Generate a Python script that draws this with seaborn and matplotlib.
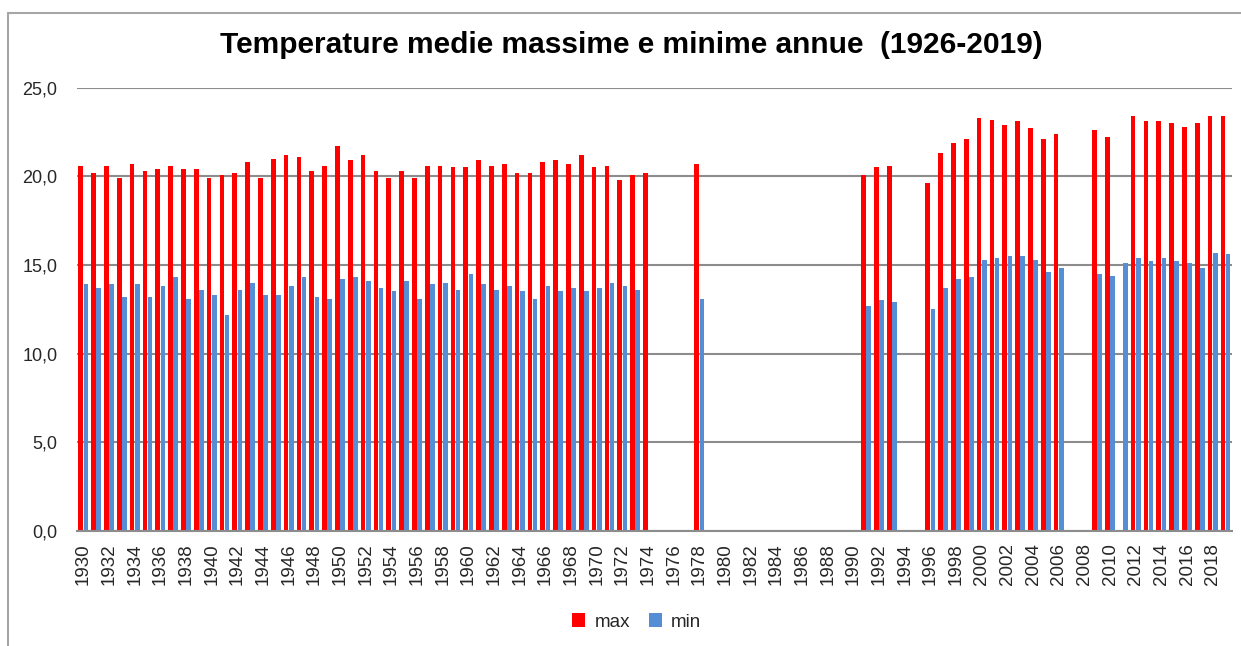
import pandas as pd
import seaborn as sns
import matplotlib.pyplot as plt
from matplotlib.ticker import FuncFormatter
from matplotlib.patches import Patch
from matplotlib.lines import Line2D

# anni 1930-2019, None = dato mancante
years = list(range(1930, 2020))

tmax = [
    20.6, 20.2, 20.6, 19.9, 20.7, 20.3, 20.4, 20.6, 20.4, 20.4,   # 1930
    19.9, 20.1, 20.2, 20.8, 19.9, 21.0, 21.2, 21.1, 20.3, 20.6,   # 1940
    21.7, 20.9, 21.2, 20.3, 19.9, 20.3, 19.9, 20.6, 20.6, 20.5,   # 1950
    20.5, 20.9, 20.6, 20.7, 20.2, 20.2, 20.8, 20.9, 20.7, 21.2,   # 1960
    20.5, 20.6, 19.8, 20.1, 20.2, None, None, None, 20.7, None,   # 1970
    None, None, None, None, None, None, None, None, None, None,   # 1980
    None, 20.1, 20.5, 20.6, None, None, 19.6, 21.3, 21.9, 22.1,   # 1990
    23.3, 23.2, 22.9, 23.1, 22.7, 22.1, 22.4, None, None, 22.6,   # 2000
    22.2, None, 23.4, 23.1, 23.1, 23.0, 22.8, 23.0, 23.4, 23.4,   # 2010
]

tmin = [
    13.9, 13.7, 13.9, 13.2, 13.9, 13.2, 13.8, 14.3, 13.1, 13.6,   # 1930
    13.3, 12.2, 13.6, 14.0, 13.3, 13.3, 13.8, 14.3, 13.2, 13.1,   # 1940
    14.2, 14.3, 14.1, 13.7, 13.5, 14.1, 13.1, 13.9, 14.0, 13.6,   # 1950
    14.5, 13.9, 13.6, 13.8, 13.5, 13.1, 13.8, 13.5, 13.7, 13.5,   # 1960
    13.7, 14.0, 13.8, 13.6, None, None, None, None, 13.1, None,   # 1970
    None, None, None, None, None, None, None, None, None, None,   # 1980
    None, 12.7, 13.0, 12.9, None, None, 12.5, 13.7, 14.2, 14.3,   # 1990
    15.3, 15.4, 15.5, 15.5, 15.3, 14.6, 14.8, None, None, 14.5,   # 2000
    14.4, 15.1, 15.4, 15.2, 15.4, 15.2, 15.1, 14.8, 15.7, 15.6,   # 2010
]

series = ['max', 'min']
colors = {'max': '#FF0000', 'min': '#558ED5'}
title = 'Temperature medie massime e minime annue  (1926-2019)'

df = pd.DataFrame({'anno': years, 'max': tmax, 'min': tmin})
long = df.melt(id_vars='anno', var_name='serie', value_name='temp').dropna()

sns.set_style('white')
plt.rcParams['font.family'] = ['Liberation Sans', 'DejaVu Sans']

fig = plt.figure(figsize=(12.41, 6.46), dpi=100)
ax = fig.add_axes([0.062, 0.1785, 0.9307, 0.6857])

sns.barplot(data=long, x='anno', y='temp', hue='serie', order=years,
            hue_order=series, palette=colors, width=0.8, gap=0.08,
            saturation=1, errorbar=None, legend=False, linewidth=0, ax=ax)

ax.set_xlim(-0.5, len(years) - 0.5)
ax.set_ylim(0, 25)
ax.set_yticks([0, 5, 10, 15, 20, 25])
ax.yaxis.set_major_formatter(FuncFormatter(lambda v, p: f'{v:.1f}'.replace('.', ',')))
ax.set_xticks(range(0, len(years), 2))
ax.set_xticklabels([str(y) for y in years[::2]], rotation=90)
ax.tick_params(axis='x', length=0, pad=9, labelsize=13.5)
ax.tick_params(axis='y', length=0, pad=14, labelsize=13)
ax.set_xlabel('')
ax.set_ylabel('')

ax.yaxis.grid(True, color='#8c8c8c', lw=1.5)
ax.set_axisbelow(True)
for s in ['top', 'right', 'left']:
    ax.spines[s].set_visible(False)
ax.spines['bottom'].set_color('#8c8c8c')
ax.spines['bottom'].set_linewidth(1.5)

fig.text(0.509, 1 - 45 / 646, title, ha='center', va='center',
         fontsize=21.5, fontweight='bold', color='black')

handles = [Patch(facecolor=colors[s], edgecolor='none') for s in series]
fig.legend(handles, series, loc='center', bbox_to_anchor=(0.513, 0.037),
           ncol=2, frameon=False, fontsize=13.5, handlelength=0.7,
           handleheight=0.75, handletextpad=0.5, columnspacing=1.0)

# bordo dell'area grafico
fig.add_artist(Line2D([8 / 1241, 8 / 1241], [0, 1 - 13 / 646],
                      transform=fig.transFigure, color='#a6a6a6', lw=1.5))
fig.add_artist(Line2D([8 / 1241, 1], [1 - 13 / 646, 1 - 13 / 646],
                      transform=fig.transFigure, color='#a6a6a6', lw=1.5))

fig.savefig('out.png', dpi=100)
